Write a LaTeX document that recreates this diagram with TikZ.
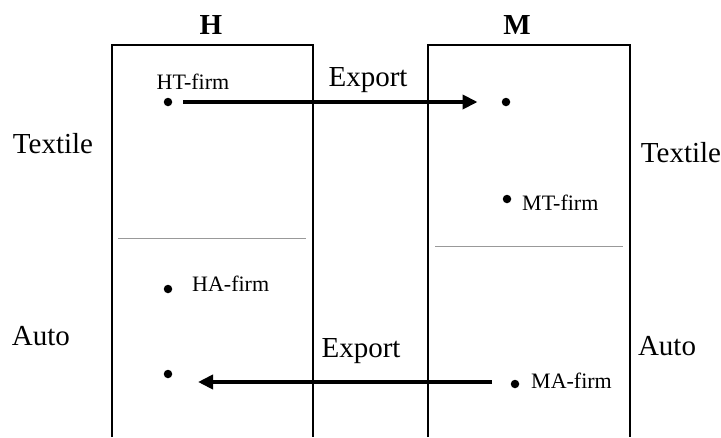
\documentclass[tikz,border=0pt]{standalone}
\usepackage{fontspec}
\setmainfont{Liberation Serif}
\usetikzlibrary{arrows.meta}
\tikzset{
  big/.style={font=\fontsize{29}{31}\selectfont, inner sep=0pt},
  small/.style={font=\fontsize{22}{24}\selectfont, inner sep=0pt},
  head/.style={font=\fontsize{29}{31}\selectfont\bfseries, inner sep=0pt},
  dot/.style={circle, fill=black, inner sep=0pt, minimum size=8.5pt},
  country/.style={line width=2pt, black},
  divider/.style={line width=1pt, gray!80},
  export/.style={line width=4pt, -{Triangle[length=15pt,width=14pt]}}
}
\begin{document}
\begin{tikzpicture}[x=1pt,y=-1pt]
\useasboundingbox (0,0) rectangle (721,437);
% country boxes
\draw[country] (112,437) -- (112,45) -- (313,45) -- (313,437);
\draw[country] (428,437) -- (428,45) -- (630,45) -- (630,437);
% sector dividers
\draw[divider] (118,238.5) -- (306,238.5);
\draw[divider] (435,246) -- (623,246);
% headers
\node[head] (H) at (211,25) {H};
\node[head] (M) at (517,25) {M};
% sector labels
\node[big] (texL) at (53,144) {Textile};
\node[big] (texR) at (681,153) {Textile};
\node[big] (autoL) at (41,336) {Auto};
\node[big] (autoR) at (667,346) {Auto};
% firms
\node[dot] (ht) at (168,102) {};
\node[small] (htl) at (193,82) {HT-firm};
\node[dot] (mtx) at (506,102) {};
\node[dot] (mt) at (507,199) {};
\node[small, anchor=west] (mtl) at (522,203) {MT-firm};
\node[dot] (ha) at (168,289) {};
\node[small, anchor=west] (hal) at (192,284) {HA-firm};
\node[dot] (hax) at (168,374) {};
\node[dot] (ma) at (515,384) {};
\node[small, anchor=west] (mal) at (531,381) {MA-firm};
% export labels
\node[big] (ex1) at (368,80) {Export};
\node[big] (ex2) at (361,351) {Export};
% arrows
\coordinate (a2s) at (492,382);
\coordinate (a2e) at (198,382);
\draw[export, shorten <=11pt, shorten >=24pt] (ht) -- (mtx);
\draw[export] (a2s) -- (a2e);
\end{tikzpicture}
\end{document}
